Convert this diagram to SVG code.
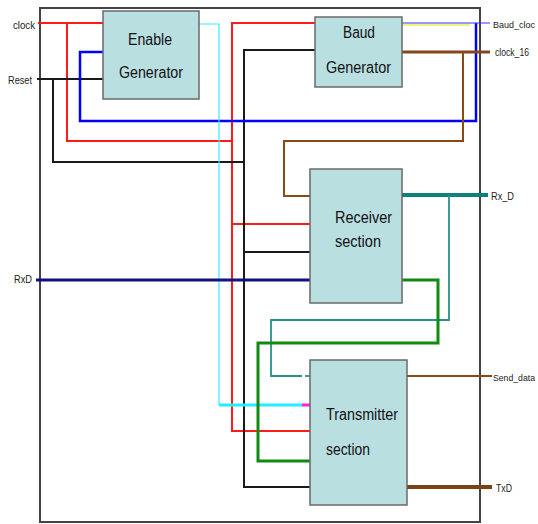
<svg xmlns="http://www.w3.org/2000/svg" width="538" height="524" viewBox="0 0 538 524">
<style>
.box{fill:#b9dfe1;stroke:#6a6a6a;stroke-width:1.5}
.bt{font-family:"Liberation Sans",Arial,sans-serif;font-size:16px;fill:#111}
.lb{font-family:"Liberation Sans",Arial,sans-serif;font-size:11px;fill:#222}
.sm{font-size:9px}
.w{fill:none;stroke-linejoin:miter;stroke-linecap:butt}
.red{stroke:#ff1a1a;stroke-width:2}
.blk{stroke:#1a1a1a;stroke-width:2}
.blu{stroke:#0000ff;stroke-width:2.5}
.cyn{stroke:#33eeff;stroke-width:1.2}
.brn{stroke:#8a4a16;stroke-width:2}
.tel{stroke:#2a8f8f;stroke-width:1.8}
.grn{stroke:#118a11;stroke-width:3}
</style>
<rect width="538" height="524" fill="#fff"/>
<g id="frame"><rect x="40" y="8" width="440" height="514" fill="none" stroke="#444" stroke-width="2"/></g>
<g id="connectors">
<polyline class="w red" points="38,23 103,23"/>
<polyline class="w red" points="67,23 67,141 232,141"/>
<polyline class="w red" points="315,23 232,23 232,431 310,431"/>
<polyline class="w red" points="232,224 310,224"/>
<polyline class="w blk" points="37,79 103,79"/>
<polyline class="w blk" points="53,79 53,162 244,162"/>
<polyline class="w blk" points="315,50 244,50 244,487 310,487"/>
<polyline class="w blk" points="244,252 310,252"/>
<polyline class="w blu" points="103,52 80,52 80,121 476,121 476,23"/>
<line x1="402" y1="25" x2="470" y2="25" stroke="#e6e600" stroke-width="1.2"/>
<line x1="402" y1="23" x2="490" y2="23" stroke="#3333ff" stroke-width="1.2"/>
<polyline class="w cyn" points="199,24 219,24 219,405"/>
<line x1="219" y1="405" x2="302" y2="405" stroke="#22eeff" stroke-width="3"/>
<line x1="302" y1="405" x2="310" y2="405" stroke="#ff22dd" stroke-width="3"/>
<line x1="402" y1="52" x2="490" y2="52" stroke="#84461a" stroke-width="3"/>
<polyline class="w brn" points="463,52 463,141 284,141 284,196 310,196"/>
<line x1="36" y1="280" x2="310" y2="280" stroke="#101080" stroke-width="3"/>
<line x1="402" y1="195" x2="488" y2="195" stroke="#0d8080" stroke-width="4"/>
<polyline class="w tel" points="449,195 449,320 271,320 271,376 302,376"/>
<line x1="305" y1="376" x2="310" y2="376" stroke="#2a8f8f" stroke-width="1.8"/>
<polyline class="w grn" points="402,280 438,280 438,343 258,343 258,461 310,461"/>
<line x1="407" y1="376" x2="492" y2="376" stroke="#8a4a16" stroke-width="2"/>
<line x1="407" y1="487" x2="492" y2="487" stroke="#7e4212" stroke-width="4"/>
</g>
<g id="enable-generator">
<rect class="box" x="103" y="11" width="96" height="88"/>
<text class="bt" x="128" y="45" textLength="44" lengthAdjust="spacingAndGlyphs">Enable</text>
<text class="bt" x="119" y="78" textLength="64" lengthAdjust="spacingAndGlyphs">Generator</text>
</g>
<g id="baud-generator">
<rect class="box" x="315" y="17" width="87" height="70"/>
<text class="bt" x="343" y="38" textLength="32" lengthAdjust="spacingAndGlyphs">Baud</text>
<text class="bt" x="326" y="73" textLength="65" lengthAdjust="spacingAndGlyphs">Generator</text>
</g>
<g id="receiver-section">
<rect class="box" x="310" y="169" width="92" height="134"/>
<text class="bt" x="335" y="223" textLength="57" lengthAdjust="spacingAndGlyphs">Receiver</text>
<text class="bt" x="335" y="247" textLength="46" lengthAdjust="spacingAndGlyphs">section</text>
</g>
<g id="transmitter-section">
<rect class="box" x="310" y="360" width="97" height="145"/>
<text class="bt" x="326" y="420" textLength="72" lengthAdjust="spacingAndGlyphs">Transmitter</text>
<text class="bt" x="326" y="455" textLength="44" lengthAdjust="spacingAndGlyphs">section</text>
</g>
<g id="port-labels">
<text class="lb" x="13" y="29" textLength="22" lengthAdjust="spacingAndGlyphs">clock</text>
<text class="lb" x="8" y="84" textLength="24" lengthAdjust="spacingAndGlyphs">Reset</text>
<text class="lb" x="14" y="283" textLength="18" lengthAdjust="spacingAndGlyphs">RxD</text>
<text class="lb sm" x="493" y="28" textLength="42" lengthAdjust="spacingAndGlyphs">Baud_cloc</text>
<text class="lb" x="495" y="56" textLength="34" lengthAdjust="spacingAndGlyphs">clock_16</text>
<text class="lb" x="491" y="200" textLength="23" lengthAdjust="spacingAndGlyphs">Rx_D</text>
<text class="lb sm" x="493" y="381" textLength="42" lengthAdjust="spacingAndGlyphs">Send_data</text>
<text class="lb" x="496" y="492" textLength="16" lengthAdjust="spacingAndGlyphs">TxD</text>
</g>
</svg>
